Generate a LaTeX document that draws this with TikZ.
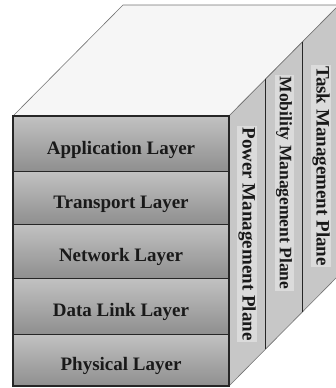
\documentclass[tikz,border=0pt]{standalone}
\usepackage{fontspec}
\setmainfont{Liberation Serif}
\begin{document}
\begin{tikzpicture}[x=1pt,y=-1pt,
  edge/.style={draw=black!85,line width=1.1pt},
  rowline/.style={black!85,line width=0.9pt},
  divider/.style={black!85,line width=0.8pt},
  layerfill/.style={top color=gray!48!white,bottom color=gray!88!white},
  layertext/.style={font=\fontsize{19}{19}\selectfont\bfseries,text=black!90},
  planetext/.style={font=\fontsize{19}{19}\selectfont\bfseries,text=black!90,
    rotate=-90,fill=gray!28!white,inner sep=1.5pt}]
\useasboundingbox (0,0) rectangle (336,388);
\begin{scope}
\clip (0,0) rectangle (336,388);
% top face
\filldraw[fill=gray!7!white,draw=black!55,line width=0.6pt]
  (13,116) -- (123,5) -- (339,5) -- (229,116) -- cycle;
% right face, split into three planes
\filldraw[fill=gray!44!white,draw=black!55,line width=0.6pt]
  (229,116) -- (339,5) -- (339,275) -- (229,386) -- cycle;
\coordinate (d1t) at (265.7,79);
\coordinate (d1b) at (265.7,349);
\coordinate (d2t) at (302.3,42);
\coordinate (d2b) at (302.3,312);
\draw[divider] (d1t) -- (d1b);
\draw[divider] (d2t) -- (d2b);
% front face: five shaded layers
\foreach \a/\b in {116/171,171/224,224/278,278/334,334/386}{
  \shade[layerfill] (13,\a) rectangle (229,\b);
}
\draw[rowline] (13,171) -- (229,171);
\draw[rowline] (13,224) -- (229,224);
\draw[rowline] (13,278) -- (229,278);
\draw[rowline] (13,334) -- (229,334);
\draw[edge] (13,116) rectangle (229,386);
\end{scope}
% layer labels
\node[layertext] (app) at (121,150) {Application Layer};
\node[layertext] (tra) at (121,204) {Transport Layer};
\node[layertext] (net) at (121,257) {Network Layer};
\node[layertext] (dll) at (121,312) {Data Link Layer};
\node[layertext] (phy) at (121,366) {Physical Layer};
% plane labels
\node[planetext] (pow) at (247,234) {Power Management Plane};
\node[planetext,font=\fontsize{17.5}{17.5}\selectfont\bfseries] (mob) at (284,183) {Mobility Management Plane};
\node[planetext] (tsk) at (321,166) {Task Management Plane};
\end{tikzpicture}
\end{document}
